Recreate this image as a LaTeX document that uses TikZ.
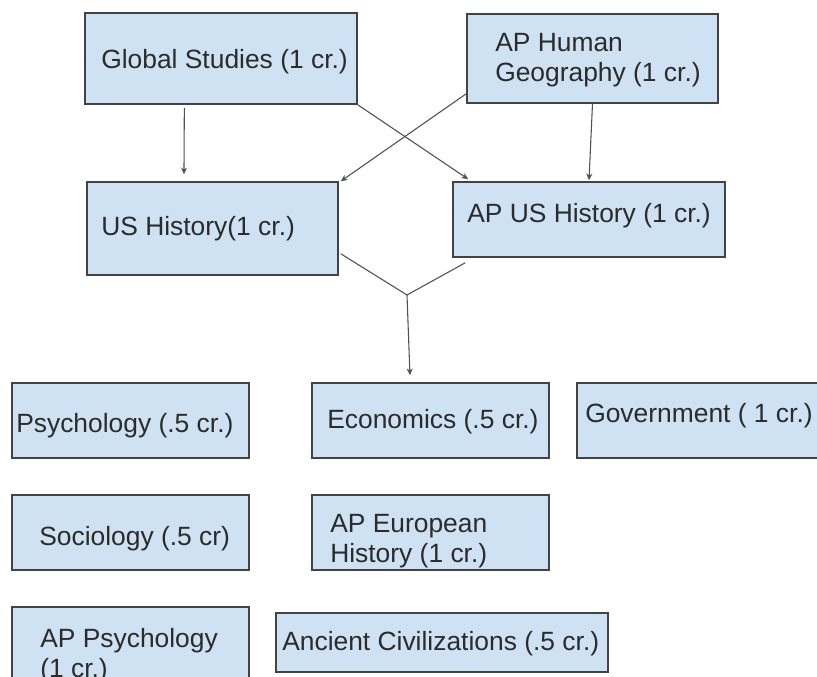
\documentclass[tikz,border=0pt]{standalone}
\usepackage{fontspec}
\setmainfont{Liberation Sans}
\usepackage{xcolor}
\usetikzlibrary{arrows.meta}

\definecolor{boxfill}{HTML}{CFE2F3}
\definecolor{boxline}{HTML}{434343}
\definecolor{conline}{HTML}{505050}
\definecolor{txtcol}{HTML}{2B2B2B}

\begin{document}
\begin{tikzpicture}[x=0.75pt,y=0.75pt,yscale=-1,xscale=1,
  course/.style={draw=boxline,fill=boxfill,line width=1.2pt,rectangle,inner sep=0pt},
  lbl/.style={anchor=north west,inner sep=0pt,align=left,text=txtcol,font=\fontsize{19.8}{22.5}\selectfont},
  arr/.style={draw=conline,line width=0.8pt,-{Stealth[length=5pt,width=4.5pt]}},
  con/.style={draw=conline,line width=0.8pt}]
\clip (0,0) rectangle (817,677);
\useasboundingbox (0,0) rectangle (817,677);

%Shape: Rectangle
\node [course,minimum width=204pt,minimum height=68.25pt] (gs) at (221,58.5) {};
\node [course,minimum width=188.25pt,minimum height=66.75pt] (hg) at (592.5,58.5) {};
\node [course,minimum width=188.25pt,minimum height=69.75pt] (ush) at (212.5,228.5) {};
\node [course,minimum width=204pt,minimum height=56.25pt] (apush) at (589,219.5) {};
\node [course,minimum width=177.75pt,minimum height=56.25pt] (psy) at (130.5,420.5) {};
\node [course,minimum width=177.75pt,minimum height=56.25pt] (eco) at (430.5,420.5) {};
\node [course,minimum width=180.75pt,minimum height=56.25pt] (gov) at (697.5,420.5) {};
\node [course,minimum width=177.75pt,minimum height=56.25pt] (soc) at (130.5,532.5) {};
\node [course,minimum width=177.75pt,minimum height=56.25pt] (apeu) at (430.5,532.5) {};
\node [course,minimum width=177.75pt,minimum height=56.25pt] (appsy) at (130.5,644.5) {};
\node [course,minimum width=249pt,minimum height=44.25pt] (anc) at (442,642.5) {};

%Straight Lines
\draw [arr] ([xshift=-27.5pt,yshift=2.25pt]gs.south) -- ([xshift=-21.4pt,yshift=-5.25pt]ush.north);
\draw [arr] (gs.south east) -- ([xshift=12pt,yshift=-1.5pt]apush.north west);
\draw [arr] ([yshift=-7.5pt]hg.south west) -- ([xshift=1.5pt]ush.north east);
\draw [arr] (hg.south) -- ([yshift=-0.75pt]apush.north);
\coordinate (j) at (407,295);
\draw [con] ([xshift=1.5pt,yshift=-16.5pt]ush.south east) -- (j);
\draw [con] ([xshift=9.75pt,yshift=3.75pt]apush.south west) -- (j);
\draw [arr] (j) -- ([xshift=-15.4pt,yshift=-5.25pt]eco.north);

% Text Node
\node [lbl] (gs-t) at (101,49.5) {Global Studies (1 cr.)};
% Text Node
\node [lbl] (hg-t) at (495,33.5) {AP Human\\Geography (1 cr.)};
% Text Node
\node [lbl] (ush-t) at (101,216.5) {US History(1 cr.)};
% Text Node
\node [lbl] (apush-t) at (467,203.5) {AP US History (1 cr.)};
% Text Node
\node [lbl] (psy-t) at (16,413.5) {Psychology (.5 cr.)};
% Text Node
\node [lbl] (eco-t) at (327,409.5) {Economics (.5 cr.)};
% Text Node
\node [lbl] (gov-t) at (585,403.5) {Government ( 1 cr.)};
% Text Node
\node [lbl] (soc-t) at (39,526.5) {Sociology (.5 cr)};
% Text Node
\node [lbl] (apeu-t) at (330,514.5) {AP European\\History (1 cr.)};
% Text Node
\node [lbl] (appsy-t) at (40,628.5) {AP Psychology\\(1 cr.)};
% Text Node
\node [lbl] (anc-t) at (282,631.5) {Ancient Civilizations (.5 cr.)};

\end{tikzpicture}
\end{document}
